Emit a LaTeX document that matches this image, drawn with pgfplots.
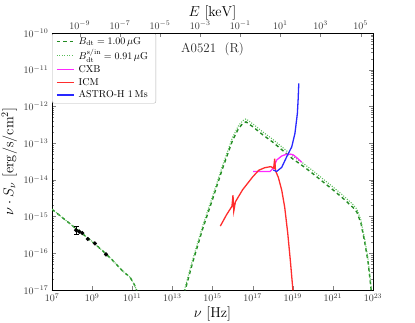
\documentclass[border=0pt]{standalone}
\usepackage{pgfplots}
\pgfplotsset{compat=1.18}
\definecolor{dtgreen}{RGB}{34,139,34}
\definecolor{sgreen}{RGB}{90,190,90}
\definecolor{cxb}{RGB}{255,40,255}
\definecolor{icm}{RGB}{255,45,45}
\definecolor{astro}{RGB}{40,40,255}
\begin{document}
\begin{tikzpicture}
\useasboundingbox (-52pt,-33pt) rectangle (363pt,290pt);
\begin{axis}[
    scale only axis,
    width=321pt, height=257pt,
    xmode=log, ymode=log,
    xmin=1e7, xmax=1e23, ymin=1e-17, ymax=1e-10,
    xtick={1e7,1e9,1e11,1e13,1e15,1e17,1e19,1e21,1e23},
    ytick={1e-17,1e-16,1e-15,1e-14,1e-13,1e-12,1e-11,1e-10},
    xtick pos=left,
    tick align=inside,
    major tick length=4pt, minor tick length=2pt,
    tick label style={font=\normalsize, text=black!80},
    xlabel={$\nu\ [\mathrm{Hz}]$},
    ylabel={$\nu\cdot S_\nu\ [\mathrm{erg/s/cm^2}]$},
    label style={font=\Large},
    xlabel style={yshift=2pt},
    ylabel style={yshift=0pt},
    legend cell align=left,
    legend style={at={(0,1)}, anchor=north west, draw=black!30, rounded corners=2pt,
      font=\normalsize, inner xsep=4pt, inner ysep=2pt, row sep=0pt, fill=white,
      nodes={inner xsep=4pt}},
]
% IC part, B_dt = 1.00 muG
\addplot[color=dtgreen, line width=1.4pt, dash pattern=on 3.5pt off 3pt] coordinates {
 (3.98e13,8.32e-18) (1e14,5.37e-17) (3.16e14,4.47e-16) (1e15,2.95e-15) (3.16e15,2.04e-14)
 (1e16,1.20e-13) (2.0e16,2.51e-13) (3.16e16,3.39e-13) (4.68e16,3.80e-13) (1e17,2.82e-13)
 (3.16e17,1.70e-13) (1e18,1.07e-13) (3.16e18,6.31e-14) (1e19,3.72e-14) (3.16e19,2.40e-14)
 (1e20,1.48e-14) (3.16e20,8.91e-15) (1e21,5.37e-15) (3.16e21,3.16e-15) (1e22,1.78e-15)
 (1.58e22,1.32e-15) (2.51e22,6.61e-16) (3.98e22,1.86e-16) (5.62e22,6.03e-17) (7.94e22,1.12e-17)
 (8.91e22,6.31e-18)
};
\addlegendentry{$B_{\rm dt} = 1.00\,\mu{\rm G}$}
% IC part, B_dt^s/in = 0.91 muG
\addplot[color=sgreen, line width=1.1pt, dash pattern=on 1pt off 1.5pt] coordinates {
 (3.98e13,9.98e-18) (1e14,6.44e-17) (3.16e14,5.36e-16) (1e15,3.54e-15) (3.16e15,2.45e-14)
 (1e16,1.44e-13) (2.0e16,3.01e-13) (3.16e16,4.07e-13) (4.68e16,4.56e-13) (1e17,3.38e-13)
 (3.16e17,2.04e-13) (1e18,1.28e-13) (3.16e18,7.57e-14) (1e19,4.46e-14) (3.16e19,2.88e-14)
 (1e20,1.78e-14) (3.16e20,1.07e-14) (1e21,6.44e-15) (3.16e21,3.79e-15) (1e22,2.14e-15)
 (1.58e22,1.58e-15) (2.51e22,7.93e-16) (3.98e22,2.23e-16) (5.62e22,7.24e-17) (7.94e22,1.34e-17)
 (8.91e22,7.57e-18)
};
\addlegendentry{$B_{\rm dt}^{\rm s/in} = 0.91\,\mu{\rm G}$}
\addplot[color=cxb, line width=1.3pt] coordinates {
 (1.07e17,1.70e-14) (3.16e17,1.70e-14) (7.41e17,1.70e-14) (1.07e18,2.09e-14) (1.58e18,3.47e-14)
 (2.82e18,4.47e-14) (5.01e18,5.01e-14) (7.94e18,5.01e-14) (1.07e19,4.79e-14) (1.78e19,3.80e-14)
 (2.82e19,3.02e-14)
};
\addlegendentry{CXB}
\addplot[color=icm, line width=1.3pt] coordinates {
 (2.45e15,5.50e-16) (5.01e15,1.12e-15) (9.33e15,1.91e-15) (1.05e16,3.80e-15) (1.15e16,1.41e-15)
 (1.38e16,2.51e-15) (3.16e16,5.37e-15) (1e17,1.20e-14) (2.0e17,1.82e-14) (3.98e17,2.14e-14)
 (7.94e17,2.29e-14) (1.12e18,2.09e-14) (1.26e18,3.80e-14) (1.38e18,1.78e-14) (1.91e18,1.17e-14)
 (2.82e18,5.25e-15) (3.98e18,1.78e-15) (5.62e18,3.55e-16) (7.59e18,6.31e-17) (1e19,1.12e-17)
 (1.12e19,5.01e-18)
};
\addlegendentry{ICM}
\addplot[color=astro, line width=1.3pt] coordinates {
 (1.07e18,1.86e-14) (1.58e18,1.70e-14) (2.82e18,2.19e-14) (5.01e18,4.27e-14) (8.91e18,7.94e-14)
 (1.29e19,1.86e-13) (1.70e19,6.46e-13) (1.86e19,1.58e-12) (2.0e19,4.27e-12)
};
\addlegendentry{ASTRO-H 1\,Ms}
% radio synchrotron part, both fields
\addplot[color=dtgreen, line width=1.4pt, dash pattern=on 3.5pt off 3pt, forget plot] coordinates {
 (1e7,1.58e-15) (3.16e7,9.55e-16) (1e8,5.75e-16) (3.16e8,3.47e-16) (1e9,2.09e-16)
 (3.16e9,1.20e-16) (1e10,6.61e-17) (3.16e10,3.39e-17) (7.94e10,2.19e-17) (1.26e11,1.41e-17)
 (1.78e11,8.9e-18)
};
\addplot[color=sgreen, line width=1.1pt, dash pattern=on 1pt off 1.5pt, forget plot] coordinates {
 (1e7,1.58e-15) (3.16e7,9.55e-16) (1e8,5.75e-16) (3.16e8,3.47e-16) (1e9,2.09e-16)
 (3.16e9,1.20e-16) (1e10,6.61e-17) (3.16e10,3.39e-17) (7.94e10,2.19e-17) (1.26e11,1.41e-17)
 (1.78e11,8.9e-18)
};
% radio data
\addplot[black, only marks, mark=*, mark size=1.9pt, forget plot,
  error bars/.cd, y dir=both, y explicit, error mark options={rotate=90, mark size=2.5pt}]
 coordinates {
 (1.58e8,4.27e-16) += (0,1.23e-16) -= (0,0.97e-16)
};
\addplot[black, only marks, mark=*, mark size=1.9pt, forget plot] coordinates {
 (2.29e8,3.89e-16) (3.24e8,3.55e-16) (6.03e8,2.45e-16) (1.38e9,1.86e-16) (4.90e9,9.33e-17)
};
\node[font=\fontsize{13}{15}\selectfont, text=black!85] at (axis description cs:0.5,0.935) {A0521~~(R)};
\end{axis}
\begin{axis}[
    scale only axis,
    width=321pt, height=257pt,
    xmode=log,
    xmin=4.1357e-11, xmax=4.1357e5, ymin=0, ymax=1,
    hide y axis,
    xtick={1e-9,1e-7,1e-5,1e-3,1e-1,1e1,1e3,1e5},
    xtick pos=right, xticklabel pos=right,
    tick align=inside,
    major tick length=4pt, minor tick length=2pt,
    tick label style={font=\normalsize, text=black!80},
    xlabel={$E\ [\mathrm{keV}]$},
    label style={font=\Large},
    xlabel style={yshift=-6pt},
]
\end{axis}
\end{tikzpicture}
\end{document}
